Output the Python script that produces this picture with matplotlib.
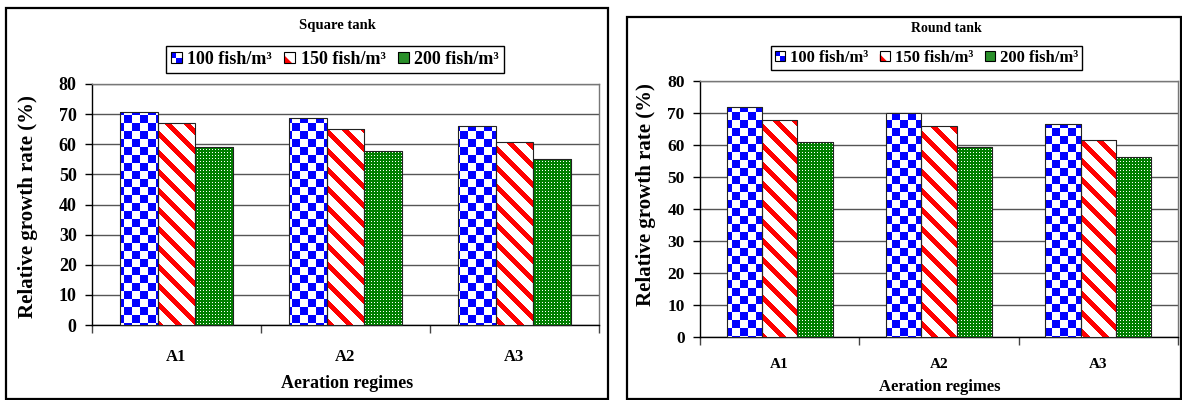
import numpy as np
import matplotlib
matplotlib.use("Agg")
import matplotlib.pyplot as plt
from matplotlib.patches import Rectangle, Polygon
from matplotlib.legend_handler import HandlerBase

regimes = ['A1', 'A2', 'A3']
densities = ['100 fish/m³', '150 fish/m³', '200 fish/m³']
# rows = stocking density, columns = aeration regime
square_tank = [[70.6, 68.7, 65.9],
               [67.0, 65.0, 60.9],
               [59.0, 57.6, 55.0]]
round_tank = [[72.0, 70.0, 66.7],
              [67.9, 66.0, 61.7],
              [61.0, 59.3, 56.1]]

plt.rcParams['font.family'] = ['Liberation Serif', 'DejaVu Serif']
plt.rcParams['font.weight'] = 'bold'

FW, FH = 1182, 400
fig = plt.figure(figsize=(FW / 100, FH / 100), dpi=100)


def px(x0, y0, x1, y1):
    # pixel box (top-left origin) -> figure fraction rect
    return [x0 / FW, 1 - y1 / FH, (x1 - x0) / FW, (y1 - y0) / FH]


def pattern(kind, h, w):
    r, c = np.mgrid[0:h, 0:w]
    img = np.ones((h, w, 3))
    if kind == 0:
        img[((r // 8) + (c // 8)) % 2 == 0] = (0, 0, 1)
    elif kind == 1:
        img[(r - c) % 19 < 7] = (1, 0, 0)
    else:
        img[:] = (0, 0.5, 0)
        img[(r % 3 == 0) & (c % 3 == 0)] = 1
    return img


class Swatch(HandlerBase):
    def __init__(self, kind):
        super().__init__()
        self.kind = kind

    def create_artists(self, legend, orig_handle, xdescent, ydescent,
                       width, height, fontsize, trans):
        s = min(width, height)
        x0 = -xdescent + (width - s) / 2
        y0 = -ydescent + (height - s) / 2
        h = s / 2
        arts = []
        if self.kind == 0:
            arts.append(Rectangle((x0, y0), s, s, fc='white', ec='none', transform=trans))
            arts.append(Rectangle((x0, y0 + h), h, h, fc='blue', ec='none', transform=trans))
            arts.append(Rectangle((x0 + h, y0), h, h, fc='blue', ec='none', transform=trans))
        elif self.kind == 1:
            arts.append(Rectangle((x0, y0), s, s, fc='white', ec='none', transform=trans))
            arts.append(Polygon([(x0, y0), (x0 + s * 0.7, y0), (x0, y0 + s * 0.7)],
                                closed=True, fc='red', ec='none', transform=trans))
        else:
            arts.append(Rectangle((x0, y0), s, s, fc='#2a8f2a', ec='none', transform=trans))
        arts.append(Rectangle((x0, y0), s, s, fc='none', ec='black', lw=0.8, transform=trans))
        return arts


def panel(rect, data, fs):
    ax = fig.add_axes(rect)
    x = np.arange(len(regimes))
    w = 0.222
    ax.set_xlim(-0.5, 2.5)
    ax.set_ylim(0, 80)
    # pixel box of the axes: patterns are laid pixel for pixel with figimage
    xo = int(round(ax.bbox.x0))
    yo = int(round(ax.bbox.y0))
    W = int(round(ax.bbox.width)) + 1
    H = int(round(ax.bbox.height)) + 1
    for i, vals in enumerate(data):
        img = pattern(i, H, W)
        bars = ax.bar(x + (i - 1) * w, vals, w, facecolor='none',
                      edgecolor='none', zorder=3)
        for b in bars:
            im = fig.figimage(img, xo=xo, yo=yo, origin='upper', zorder=1)
            im.set_clip_path(b)
            # outline on top of the pattern
            fig.add_artist(Rectangle(b.get_xy(), b.get_width(), b.get_height(),
                                     fill=False, ec='#222222', lw=0.8,
                                     transform=ax.transData, zorder=2))
    ax.set_yticks(range(0, 81, 10))
    ax.yaxis.grid(True, color='#555555', linewidth=1.0, zorder=1)
    ax.set_axisbelow(True)
    ax.set_xticks([-0.5, 0.5, 1.5, 2.5])
    ax.set_xticklabels([])
    ax.set_xticks(x, minor=True)
    ax.set_xticklabels(regimes, minor=True, fontsize=fs['x'], fontweight='bold')
    ax.tick_params(axis='x', which='minor', length=0, pad=fs['xpad'])
    ax.tick_params(axis='x', which='major', length=6, width=1, color='#444444')
    ax.tick_params(axis='y', length=5, width=1, pad=6, labelsize=fs['y'])
    for sp in ['left', 'bottom']:
        ax.spines[sp].set_color('black')
        ax.spines[sp].set_linewidth(1.0)
    for sp in ['top', 'right']:
        ax.spines[sp].set_color('#777777')
        ax.spines[sp].set_linewidth(1.0)
    return ax


# ---- left: square tank ----
axL = panel(px(92, 84, 599, 325), square_tank, {'x': 12, 'xpad': 17, 'y': 13})
fig.add_artist(Rectangle((6 / FW, 1 - 399 / FH), 602 / FW, 391 / FH, fill=False,
                         lw=1.6, ec='black', transform=fig.transFigure))
fig.text(337 / FW, 1 - 25 / FH, 'Square tank', ha='center', va='center',
         fontsize=10.5, fontweight='bold')
fig.text(28 / FW, 1 - 207 / FH, 'Relative growth rate (%)', rotation=90,
         ha='center', va='center', fontsize=15, fontweight='bold')
fig.text(347 / FW, 1 - 384 / FH, 'Aeration regimes', ha='center', va='center',
         fontsize=13, fontweight='bold')

# ---- right: round tank ----
axR = panel(px(700, 81, 1178, 337), round_tank, {'x': 11, 'xpad': 15, 'y': 12.5})
fig.add_artist(Rectangle((627 / FW, 1 - 399 / FH), 554 / FW, 382 / FH, fill=False,
                         lw=1.6, ec='black', transform=fig.transFigure))
fig.text(946 / FW, 1 - 29 / FH, 'Round tank', ha='center', va='center',
         fontsize=10, fontweight='bold')
fig.text(646 / FW, 1 - 195 / FH, 'Relative growth rate (%)', rotation=90,
         ha='center', va='center', fontsize=15, fontweight='bold')
fig.text(940 / FW, 1 - 387 / FH, 'Aeration regimes', ha='center', va='center',
         fontsize=12, fontweight='bold')

# legends
handles = [Rectangle((0, 0), 1, 1) for _ in densities]
hmap = {h: Swatch(k) for k, h in enumerate(handles)}
for cx, cy, size in [(335, 59.5, 13), (926.5, 58, 12)]:
    leg = fig.legend(handles, densities, handler_map=hmap, loc='center',
                     bbox_to_anchor=(cx / FW, 1 - cy / FH), ncol=3,
                     prop={'size': size, 'weight': 'bold'},
                     handlelength=0.6, handleheight=0.6, handletextpad=0.3,
                     columnspacing=0.7, borderpad=0.25, borderaxespad=0,
                     fancybox=False, framealpha=1, edgecolor='black')
    leg.get_frame().set_linewidth(1.0)

fig.savefig('out.png', dpi=100)
